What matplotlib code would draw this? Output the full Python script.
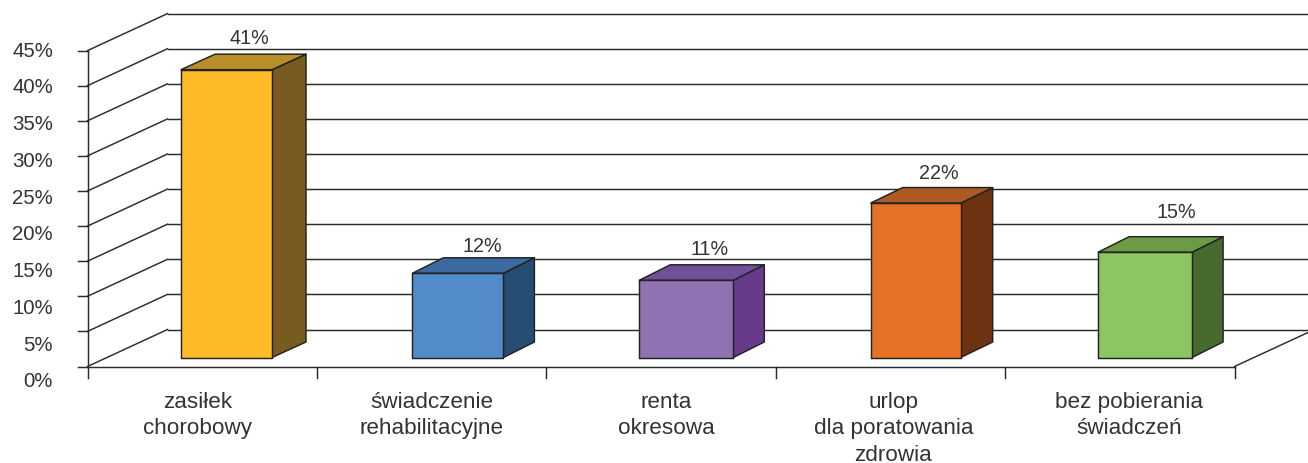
import matplotlib
matplotlib.use('Agg')
import matplotlib.pyplot as plt
from matplotlib.patches import Polygon

plt.rcParams['font.family'] = ['Liberation Sans', 'DejaVu Sans']

categories = ['zasiłek\nchorobowy', 'świadczenie\nrehabilitacyjne', 'renta\nokresowa',
              'urlop\ndla poratowania\nzdrowia', 'bez pobierania\nświadczeń']
values = [41, 12, 11, 22, 15]
value_labels = ['41%', '12%', '11%', '22%', '15%']
y_ticks = [0, 5, 10, 15, 20, 25, 30, 35, 40, 45]
y_tick_labels = ['0%', '5%', '10%', '15%', '20%', '25%', '30%', '35%', '40%', '45%']

front_colors = ['#FDBB27', '#538BC9', '#8F72B2', '#E57225', '#8AC662']
top_colors = ['#B78E28', '#3C6AA0', '#6F519B', '#AE5A24', '#6C9A45']
side_colors = ['#775B1E', '#264D72', '#673A8C', '#6D3210', '#466A30']

W, H = 1308, 464
X0, CAT_W = 87.5, 229.4  # pixel position of the axis, pixels per category
Y0, UNIT = 367.5, 7.02   # pixel position of 0%, pixels per 1%

fig = plt.figure(figsize=(W / 100, H / 100), dpi=100)
ax = fig.add_axes([0, 0, 1, 1])
ax.set_xlim(-X0 / CAT_W, (W - X0) / CAT_W)
ax.set_ylim(-(H - Y0) / UNIT, Y0 / UNIT)
ax.axis('off')

line = '#2b2b2b'
text_c = '#333333'
lw = 1.05

# 3d offsets in data units
back_dx, back_dy = 80 / CAT_W, 37 / UNIT
bar_lift = 9 / UNIT
side_dy = 15.5 / UNIT

# hand drawn bars in the original are not perfectly regular (pixels)
bar_left = [93.5, 95.5, 93, 95, 93]
bar_w = [91, 91, 94, 90, 94]
side_w = [34, 31, 31, 32, 31]

# walls and grid
for t in y_ticks:
    ax.plot([-10 / CAT_W, 0], [t, t], color=line, lw=lw, zorder=1)
    ax.plot([0, back_dx], [t, t + back_dy], color=line, lw=lw, zorder=1)
    ax.plot([back_dx, ax.get_xlim()[1]], [t + back_dy, t + back_dy], color=line, lw=lw, zorder=1)

n = len(categories)
ax.plot([0, 0], [-11 / UNIT, y_ticks[-1]], color=line, lw=lw, zorder=1)
ax.plot([0, n], [0, 0], color=line, lw=lw, zorder=1)
ax.plot([n, n + back_dx], [0, back_dy], color=line, lw=lw, zorder=1)
for i in range(1, n + 1):
    ax.plot([i, i], [-11 / UNIT, 0], color=line, lw=lw, zorder=1)

# bars
label_dx = [23, 24, 23, 23, 31]
label_dy = [17, 12, 16, 15, 25]
for i, v in enumerate(values):
    x1 = i + bar_left[i] / CAT_W
    x2 = x1 + bar_w[i] / CAT_W
    sd = side_w[i] / CAT_W
    y1 = bar_lift
    y2 = v + bar_lift
    ax.add_patch(Polygon([(x2, y1), (x2 + sd, y1 + side_dy), (x2 + sd, y2 + side_dy), (x2, y2)],
                         fc=side_colors[i], ec='#222222', lw=lw, joinstyle='round', zorder=3))
    ax.add_patch(Polygon([(x1, y2), (x1 + sd, y2 + side_dy), (x2 + sd, y2 + side_dy), (x2, y2)],
                         fc=top_colors[i], ec='#222222', lw=lw, joinstyle='round', zorder=3))
    ax.add_patch(Polygon([(x1, y1), (x2, y1), (x2, y2), (x1, y2)],
                         fc=front_colors[i], ec='#222222', lw=lw, joinstyle='round', zorder=4))
    ax.text((x1 + x2) / 2 + label_dx[i] / CAT_W, y2 + side_dy + label_dy[i] / UNIT, value_labels[i],
            ha='center', va='center', fontsize=14.2, color=text_c, zorder=5)

# y labels do not sit quite level with the ticks in the original
for t, lab in zip(y_ticks, y_tick_labels):
    ax.text(-34.5 / CAT_W, t * 1.047 - 2.05, lab, ha='right', va='center', fontsize=14.7, color=text_c)

cat_dx = [-4.5, 0, 5, 3, 9]
for i, lab in enumerate(categories):
    ax.text(i + 0.5 + cat_dx[i] / CAT_W, -(392 - Y0) / UNIT, lab, ha='center', va='top',
            fontsize=16.2, color=text_c, linespacing=1.33)

fig.savefig('out.png', dpi=100)
